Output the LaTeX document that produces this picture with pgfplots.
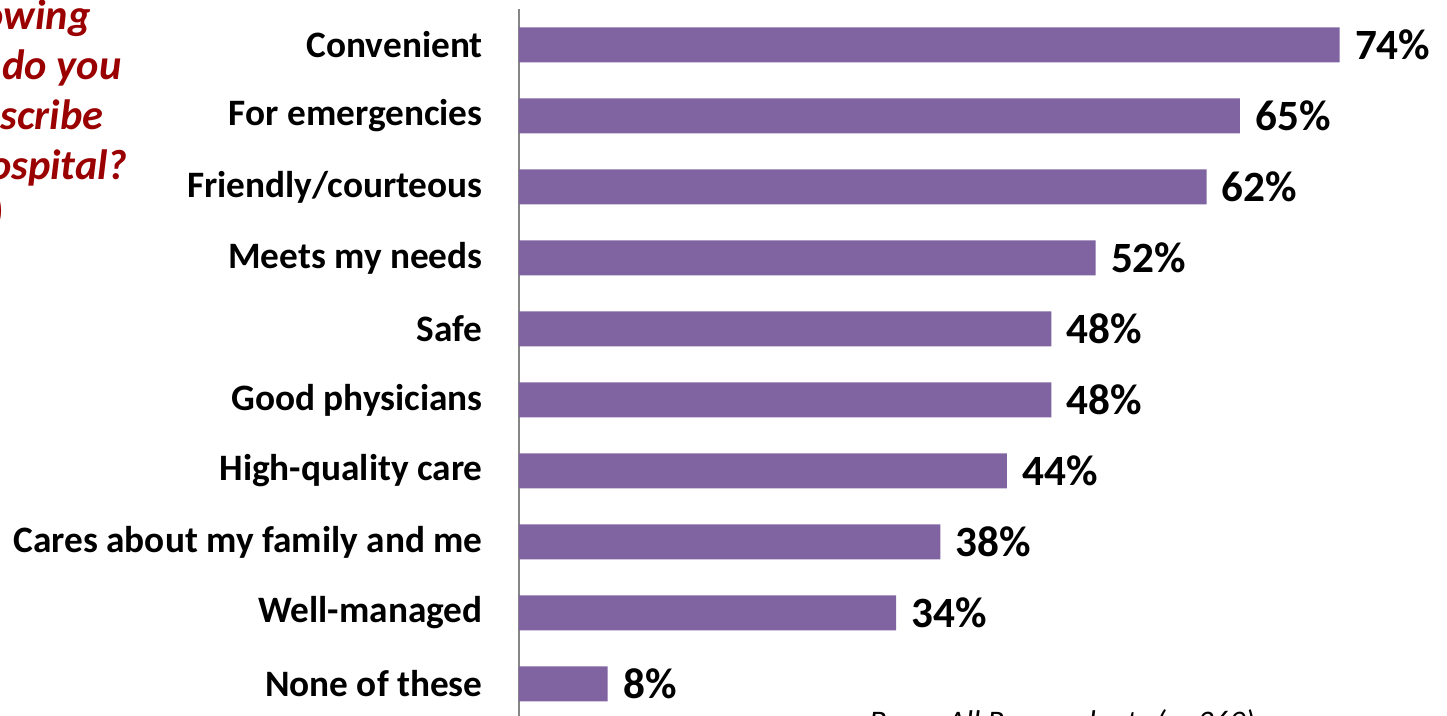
\documentclass[border=0pt]{standalone}
\usepackage{pgfplots}
\pgfplotsset{compat=1.18}
\usepackage{fontspec}
\setmainfont{Carlito}
\definecolor{barpurple}{RGB}{128,100,162}
\definecolor{qred}{RGB}{155,0,0}
\definecolor{axisgray}{RGB}{134,134,134}
\begin{document}
\begin{tikzpicture}
\useasboundingbox (0,0) rectangle (723.5pt,358pt);
\clip (0,0) rectangle (723.5pt,358pt);
\begin{axis}[
  at={(259.5pt,16pt)}, anchor=origin,
  x=5.545pt, y=35.5pt,
  xmin=0, xmax=80, ymin=-0.5, ymax=9.5,
  xbar, bar width=17.5pt,
  axis x line=none,
  axis y line*=left,
  axis line style={draw=axisgray, line width=0.8pt},
  ytick={0,...,9},
  yticklabels={None of these,Well-managed,Cares about my family and me,High-quality care,Good physicians,Safe,Meets my needs,Friendly/courteous,For emergencies,Convenient},
  major tick length=0pt,
  yticklabel style={anchor=east, inner sep=0pt, xshift=-18pt, font=\fontsize{18.65}{22}\selectfont\bfseries},
  clip=false,
  point meta=x,
  /pgf/number format/assume math mode=true,
  nodes near coords={\pgfmathprintnumber{\pgfplotspointmeta}\%},
  nodes near coords style={anchor=west, inner sep=0pt, xshift=7.5pt, font=\fontsize{21.6}{25}\selectfont\bfseries},
]
\addplot[fill=barpurple, draw=none] coordinates {
  (8,0) (34,1) (38,2) (44,3) (48,4) (48,5) (52,6) (62,7) (65,8) (74,9)
};
\end{axis}
\begin{scope}[every node/.style={inner sep=0pt, text=qred, font=\fontsize{21.2}{25}\selectfont\bfseries\itshape}]
\node[anchor=base east] at (45.5pt,343pt) {Which of the following};
\node[anchor=base east] at (61pt,318pt) {words do you};
\node[anchor=base east] at (52pt,293pt) {use to describe};
\node[anchor=base east] at (64pt,268pt) {your hospital?};
\node[anchor=base east] at (2pt,244pt) {(Select all)};
\end{scope}
\node[anchor=base west, inner sep=0pt, font=\fontsize{15.7}{19}\selectfont\itshape] at (434.5pt,-8.5pt) {Base: All Respondents (n=369)};
\end{tikzpicture}
\end{document}
